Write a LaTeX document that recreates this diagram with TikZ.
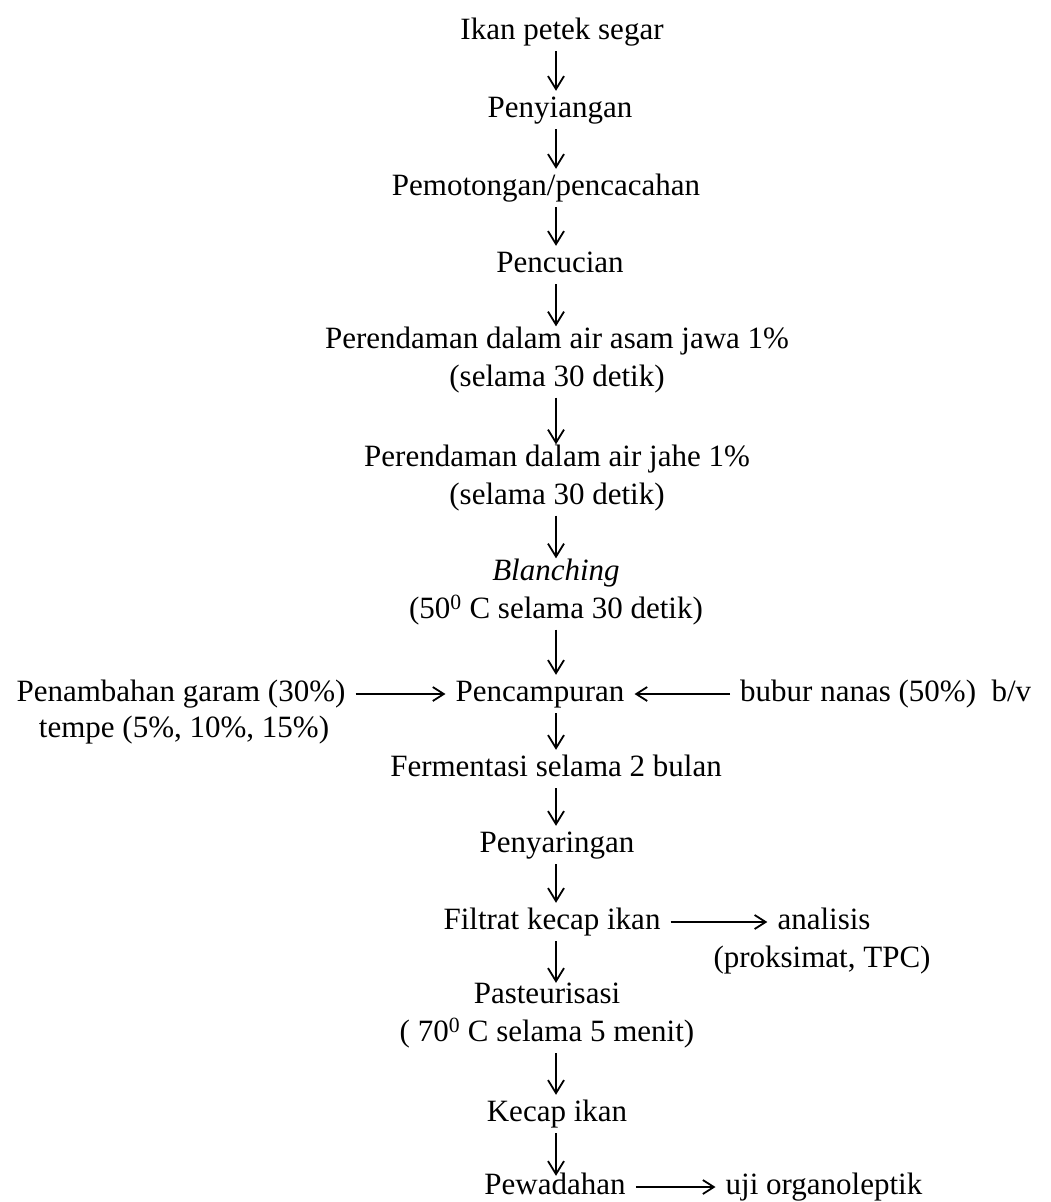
\documentclass[tikz,border=0pt]{standalone}
\usepackage{fontspec}
\setmainfont{Liberation Serif}
\usetikzlibrary{arrows.meta}

\def\spine{556}

\begin{document}
\begin{tikzpicture}[x=1pt,y=-1pt,font=\fontsize{31}{38}\selectfont]
    \tikzstyle{step text}=[inner sep=0pt,align=center,execute at begin node=\strut]
    \tikzstyle{flow}=[line width=1.8pt,-{Straight Barb[length=13pt,width=16pt]}]
    \tikzstyle{side flow}=[line width=1.8pt,-{Straight Barb[length=11pt,width=14pt]},shorten <=10pt,shorten >=10pt]

    \useasboundingbox (0,0) rectangle (1050,1202);
    \coordinate (axis) at (\spine,0);

    \node[step text] (ikan) at (562,32) {Ikan petek segar};
    \node[step text] (siang) at (560,110) {Penyiangan};
    \node[step text] (potong) at (546,188) {Pemotongan/pencacahan};
    \node[step text] (cuci) at (560,265) {Pencucian};
    \node[step text] (asam) at (557,362) {Perendaman dalam air asam jawa 1\%\\\strut(selama 30 detik)};
    \node[step text] (jahe) at (557,480) {Perendaman dalam air jahe 1\%\\\strut(selama 30 detik)};
    \node[step text] (blanch) at (556,594) {\textit{Blanching}\\\strut(50\textsuperscript{0} C selama 30 detik)};
    \node[step text] (campur) at (540,694) {Pencampuran};
    \node[step text] (garam) at (181,694) {Penambahan garam (30\%)};
    \node[step text] (tempe) at (184,730) {tempe (5\%, 10\%, 15\%)};
    \node[step text,anchor=west] (nanas) at (740,694) {bubur nanas (50\%)\ \ b/v};
    \node[step text] (ferm) at (556,769) {Fermentasi selama 2 bulan};
    \node[step text] (saring) at (557,845) {Penyaringan};
    \node[step text] (filtrat) at (552,922) {Filtrat kecap ikan};
    \node[step text] (ana) at (824,922) {analisis};
    \node[step text] (proks) at (822,960) {(proksimat, TPC)};
    \node[step text] (pasteur) at (547,1018) {Pasteurisasi\\\strut( 70\textsuperscript{0} C selama 5 menit)};
    \node[step text] (kecap) at (557,1114) {Kecap ikan};
    \node[step text] (wadah) at (555,1187) {Pewadahan};
    \node[step text] (organo) at (824,1187) {uji organoleptik};

    \draw[flow] (ikan.south -| axis) -- (siang.north -| axis);
    \draw[flow] (siang.south -| axis) -- (potong.north -| axis);
    \draw[flow] (potong.south -| axis) -- (cuci.north -| axis);
    \draw[flow] (cuci.south -| axis) -- (asam.north -| axis);
    \draw[flow] (asam.south -| axis) -- (jahe.north -| axis);
    \draw[flow] (jahe.south -| axis) -- (blanch.north -| axis);
    \draw[flow] (blanch.south -| axis) -- (campur.north -| axis);
    \draw[flow] (campur.south -| axis) -- (ferm.north -| axis);
    \draw[flow] (ferm.south -| axis) -- (saring.north -| axis);
    \draw[flow] (saring.south -| axis) -- (filtrat.north -| axis);
    \draw[flow] (filtrat.south -| axis) -- (pasteur.north -| axis);
    \draw[flow] (pasteur.south -| axis) -- (kecap.north -| axis);
    \draw[flow,shorten >=-8pt] (kecap.south -| axis) -- (wadah.north -| axis);

    \draw[side flow] (garam.east) -- (campur.west);
    \draw[side flow] (nanas.west) -- (campur.east);
    \draw[side flow] (filtrat.east) -- (ana.west);
    \draw[side flow] (wadah.east) -- (organo.west);
\end{tikzpicture}
\end{document}
